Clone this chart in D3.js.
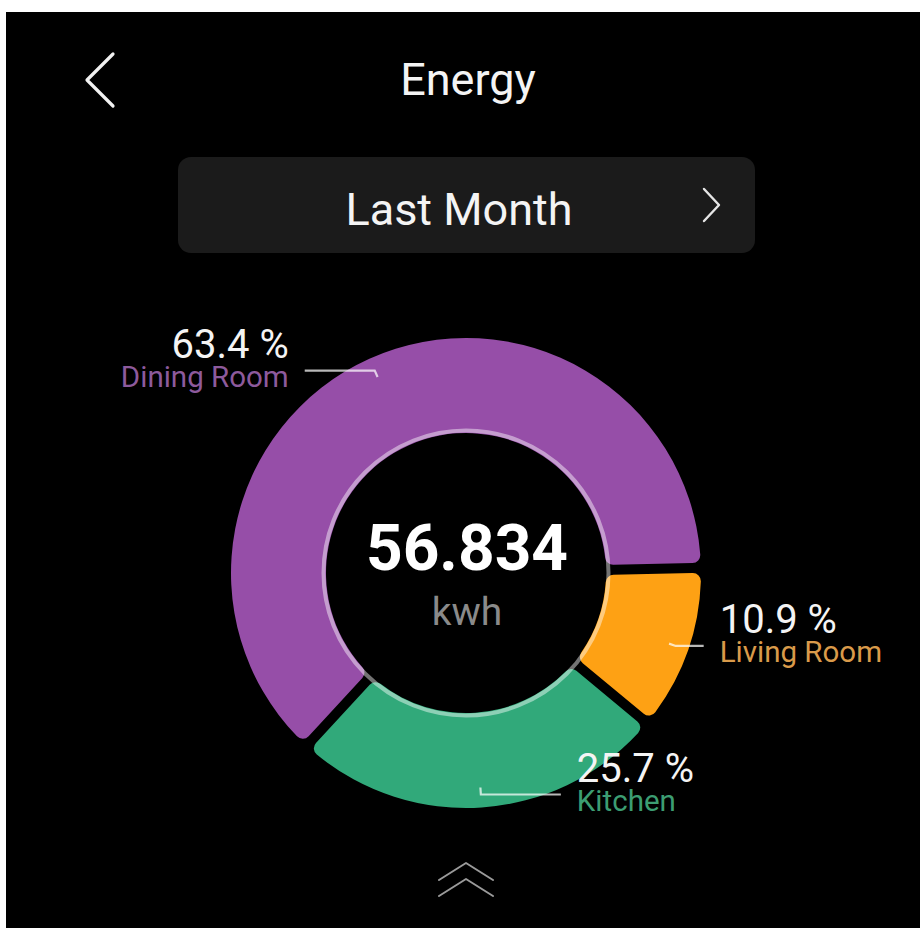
<!DOCTYPE html>
<html>
<head>
<meta charset="utf-8">
<script src="https://cdn.jsdelivr.net/npm/d3@7"></script>
<style>
  html, body { margin: 0; padding: 0; background: #ffffff; }
  svg { display: block; }
  text { font-family: Roboto, "Noto Sans", sans-serif; }
</style>
</head>
<body>
<div id="chart"></div>
<script>
// Energy breakdown for the selected period
const title = "Energy";
const periodLabel = "Last Month";
const categories = ["Dining Room", "Living Room", "Kitchen"];
const shares = [63.4, 10.9, 25.7];            // percent of total
const sliceColors = ["#964ea8", "#fea114", "#31a97a"];
const nameColors = ["#8d5a9c", "#d99a4a", "#3c9d72"];
const totalValue = "56.834";
const totalUnit = "kwh";

const W = 920, H = 928;
const cx = 466, cy = 573;
const rOuter = 235, rInner = 140;
const gap = 10;                                 // px between slices
const startDeg = -137.3;                        // where the first slice begins (clockwise from 12 o'clock)
const leaderRun = [70, 28, 80];                 // horizontal run of each leader line

const svg = d3.select("#chart").append("svg")
  .attr("width", W).attr("height", H);

// screen panel
svg.append("rect").attr("x", 6).attr("y", 12)
  .attr("width", W - 6).attr("height", H - 12).attr("fill", "#000");

// header: back chevron + title
svg.append("path")
  .attr("d", "M113,54 L87,80 L113,106")
  .attr("fill", "none").attr("stroke", "#f2f2f2")
  .attr("stroke-width", 3.2).attr("stroke-linecap", "round").attr("stroke-linejoin", "round");
svg.append("text").attr("x", 468).attr("y", 95)
  .attr("text-anchor", "middle").attr("fill", "#f4f4f4")
  .attr("font-size", 45).text(title);

// period selector
svg.append("rect").attr("x", 178).attr("y", 157)
  .attr("width", 577).attr("height", 96).attr("rx", 13)
  .attr("fill", "#1b1b1b");
svg.append("text").attr("x", 459).attr("y", 225)
  .attr("text-anchor", "middle").attr("fill", "#f4f4f4")
  .attr("font-size", 45).text(periodLabel);
svg.append("path")
  .attr("d", "M704,189 L719,205 L704,221")
  .attr("fill", "none").attr("stroke", "#e6e6e6")
  .attr("stroke-width", 2.4).attr("stroke-linecap", "round").attr("stroke-linejoin", "round");

// donut
const pie = d3.pie().sort(null).value(d => d)
  .startAngle(startDeg * Math.PI / 180)
  .endAngle(startDeg * Math.PI / 180 + 2 * Math.PI)
  .padAngle(gap / rOuter);
const arcs = pie(shares);

const arc = d3.arc()
  .innerRadius(rInner).outerRadius(rOuter)
  .cornerRadius(8).padRadius(rOuter);

const g = svg.append("g").attr("transform", `translate(${cx},${cy})`);

g.selectAll("path.slice").data(arcs).join("path")
  .attr("class", "slice")
  .attr("d", arc)
  .attr("fill", (d, i) => sliceColors[i]);

// light ring along the inner edge
g.append("circle").attr("r", rInner + 2.5)
  .attr("fill", "none").attr("stroke", "#ffffff")
  .attr("stroke-opacity", 0.45).attr("stroke-width", 4);

// centre total
g.append("text").attr("x", 1).attr("y", -3)
  .attr("text-anchor", "middle").attr("fill", "#ffffff")
  .attr("font-size", 64).attr("font-weight", 700).text(totalValue);
g.append("text").attr("x", 1).attr("y", 52)
  .attr("text-anchor", "middle").attr("fill", "#8a8a8a")
  .attr("font-size", 39).text(totalUnit);

// leader lines and labels
const line = d3.line();
arcs.forEach((d, i) => {
  const mid = (d.startAngle + d.endAngle) / 2;
  const p1 = d3.pointRadial(mid, 215);
  const p2 = d3.pointRadial(mid, 222);
  const side = p2[0] < 0 ? -1 : 1;
  const p3 = [p2[0] + side * leaderRun[i], p2[1]];

  g.append("path")
    .attr("d", line([p1, p2, p3]))
    .attr("fill", "none").attr("stroke", "#ffffff")
    .attr("stroke-opacity", 0.72).attr("stroke-width", 2.2);

  const tx = p3[0] + side * 16;
  const anchor = side < 0 ? "end" : "start";
  g.append("text").attr("x", tx).attr("y", p3[1] - 13)
    .attr("text-anchor", anchor).attr("fill", "#f4f4f4")
    .attr("font-size", 40).text(`${shares[i].toFixed(1)} %`);
  g.append("text").attr("x", tx).attr("y", p3[1] + 16)
    .attr("text-anchor", anchor).attr("fill", nameColors[i])
    .attr("font-size", 29.5).text(categories[i]);
});

// pull-up handle
svg.append("path")
  .attr("d", "M439,880 L466,863 L493,880 M439,896 L466,879 L493,896")
  .attr("fill", "none").attr("stroke", "#9a9a9a")
  .attr("stroke-width", 2).attr("stroke-linecap", "round").attr("stroke-linejoin", "round");
</script>
</body>
</html>
